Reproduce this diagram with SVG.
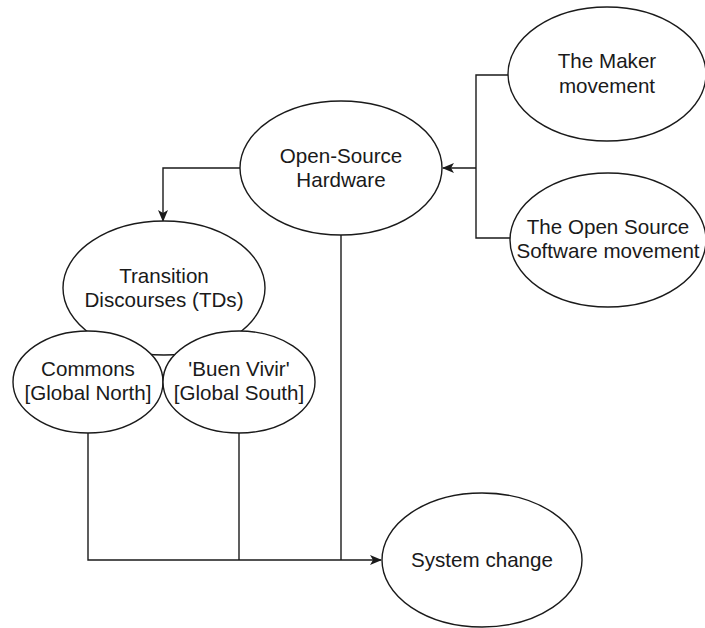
<svg xmlns="http://www.w3.org/2000/svg" width="705" height="628" viewBox="0 0 705 628">
  <style>
    .node ellipse { fill: #ffffff; stroke: #1a1a1a; stroke-width: 1.4; }
    .node text { font-family: "Liberation Sans", Arial, sans-serif; font-size: 20.6px; fill: #1a1a1a; text-anchor: middle; }
    .edge { fill: none; stroke: #1a1a1a; stroke-width: 1.4; }
  </style>
  <defs>
    <marker id="arrow" viewBox="0 0 12 10" refX="11" refY="5" markerWidth="12" markerHeight="10" markerUnits="userSpaceOnUse" orient="auto">
      <path d="M0,0 L12,5 L0,10 L3,5 Z" fill="#1a1a1a"/>
    </marker>
  </defs>
  <rect width="705" height="628" fill="#ffffff"/>

  <g id="connectors">
    <!-- Open-Source Hardware to Transition Discourses -->
    <path class="edge" d="M240,168 H163 V221" marker-end="url(#arrow)"/>
    <!-- movements feed into Open-Source Hardware -->
    <path class="edge" d="M508,75 H476 V238 H510"/>
    <path class="edge" d="M476,168 H443" marker-end="url(#arrow)"/>
    <!-- converging lines into System change -->
    <path class="edge" d="M88,433 V560 H381" marker-end="url(#arrow)"/>
    <path class="edge" d="M239,433 V560"/>
    <path class="edge" d="M341,235 V560"/>
  </g>

  <g id="open-source-hardware" class="node">
    <ellipse cx="341" cy="168" rx="101" ry="67"/>
    <text x="341" y="163">Open-Source</text>
    <text x="341" y="187">Hardware</text>
  </g>

  <g id="maker-movement" class="node">
    <ellipse cx="607" cy="74" rx="99" ry="67"/>
    <text x="607" y="68">The Maker</text>
    <text x="607" y="93">movement</text>
  </g>

  <g id="oss-movement" class="node">
    <ellipse cx="608" cy="240" rx="98" ry="67"/>
    <text x="608" y="234">The Open Source</text>
    <text x="608" y="258">Software movement</text>
  </g>

  <g id="transition-discourses" class="node">
    <ellipse cx="164" cy="288" rx="101" ry="67"/>
    <text x="164" y="283">Transition</text>
    <text x="164" y="307">Discourses (TDs)</text>
  </g>

  <g id="commons" class="node">
    <ellipse cx="88" cy="382" rx="75" ry="51"/>
    <text x="88" y="376">Commons</text>
    <text x="88" y="400">[Global North]</text>
  </g>

  <g id="buen-vivir" class="node">
    <ellipse cx="239" cy="382" rx="76" ry="51"/>
    <text x="239" y="376">'Buen Vivir'</text>
    <text x="239" y="400">[Global South]</text>
  </g>

  <g id="system-change" class="node">
    <ellipse cx="482" cy="560" rx="100" ry="67"/>
    <text x="482" y="567">System change</text>
  </g>
</svg>
